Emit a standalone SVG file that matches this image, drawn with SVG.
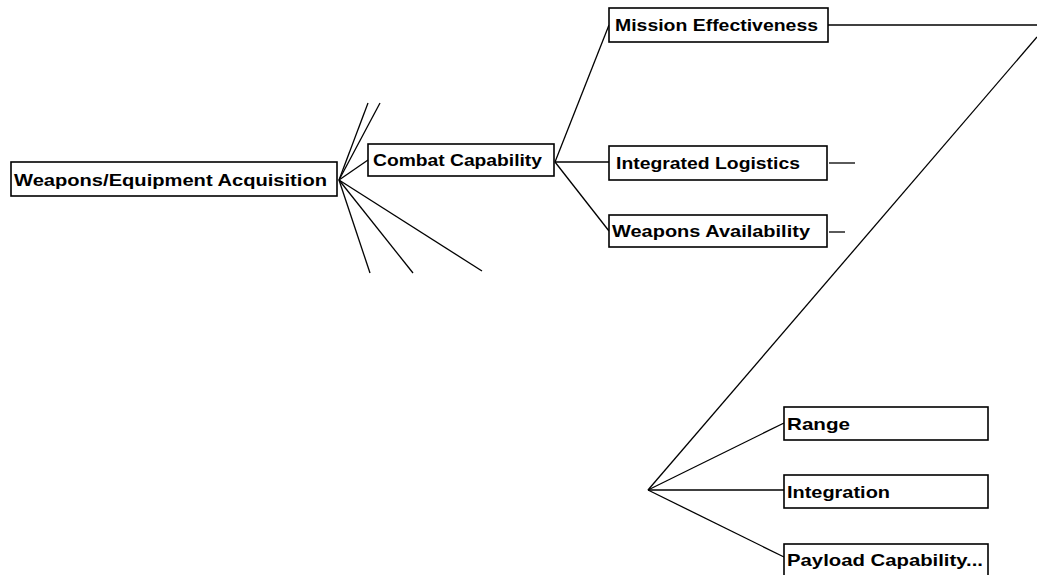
<svg xmlns="http://www.w3.org/2000/svg" width="1037" height="575" viewBox="0 0 1037 575">
<style>
.box{fill:#fff;stroke:#000;stroke-width:1.6}
.lbl{font-family:"Liberation Sans",Arial,sans-serif;font-weight:bold;font-size:17px;fill:#000}
.con line{stroke:#000;stroke-width:1.3;fill:none}
</style>
<rect width="1037" height="575" fill="#fff"/>
<g id="connectors" class="con">
<line x1="339" y1="180" x2="368" y2="103"/>
<line x1="339" y1="180" x2="380" y2="103"/>
<line x1="339" y1="180" x2="368" y2="160"/>
<line x1="339" y1="180" x2="370" y2="273"/>
<line x1="339" y1="180" x2="413" y2="273"/>
<line x1="339" y1="180" x2="482" y2="271"/>
<line x1="555" y1="162" x2="609" y2="25"/>
<line x1="555" y1="162" x2="609" y2="162"/>
<line x1="555" y1="162" x2="609" y2="231"/>
<line x1="828" y1="25" x2="1037" y2="25"/>
<line x1="829" y1="163" x2="855" y2="163"/>
<line x1="829" y1="232" x2="845" y2="232"/>
<line x1="1037" y1="37" x2="648" y2="490"/>
<line x1="648" y1="490" x2="784" y2="423"/>
<line x1="648" y1="490" x2="784" y2="490"/>
<line x1="648" y1="490" x2="784" y2="557"/>
</g>
<g id="n-weapons-equipment">
<rect class="box" x="11" y="162" width="326" height="34"/>
<text class="lbl" x="14" y="186" textLength="313" lengthAdjust="spacingAndGlyphs">Weapons/Equipment Acquisition</text>
</g>
<g id="n-combat">
<rect class="box" x="368" y="144" width="186" height="32"/>
<text class="lbl" x="373" y="166" textLength="169" lengthAdjust="spacingAndGlyphs">Combat Capability</text>
</g>
<g id="n-mission">
<rect class="box" x="609" y="8" width="219" height="34"/>
<text class="lbl" x="615" y="31" textLength="203" lengthAdjust="spacingAndGlyphs">Mission Effectiveness</text>
</g>
<g id="n-logistics">
<rect class="box" x="609" y="146" width="218" height="34"/>
<text class="lbl" x="616" y="169" textLength="184" lengthAdjust="spacingAndGlyphs">Integrated Logistics</text>
</g>
<g id="n-availability">
<rect class="box" x="609" y="215" width="218" height="32"/>
<text class="lbl" x="612" y="237" textLength="198" lengthAdjust="spacingAndGlyphs">Weapons Availability</text>
</g>
<g id="n-range">
<rect class="box" x="784" y="407" width="204" height="33"/>
<text class="lbl" x="787" y="430" textLength="63" lengthAdjust="spacingAndGlyphs">Range</text>
</g>
<g id="n-integration">
<rect class="box" x="784" y="475" width="204" height="33"/>
<text class="lbl" x="787" y="498" textLength="103" lengthAdjust="spacingAndGlyphs">Integration</text>
</g>
<g id="n-payload">
<rect class="box" x="784" y="544" width="204" height="32"/>
<text class="lbl" x="787" y="566" textLength="196" lengthAdjust="spacingAndGlyphs">Payload Capability...</text>
</g>
</svg>
